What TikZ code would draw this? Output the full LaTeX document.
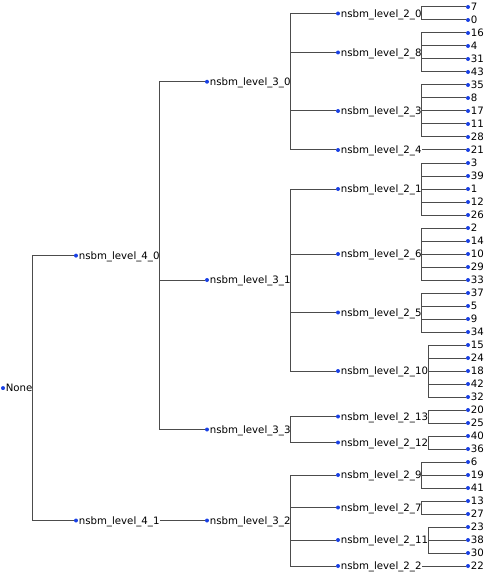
\documentclass[tikz,border=0pt]{standalone}
\usepackage{fontspec}
\setmainfont{DejaVu Sans}
\definecolor{dotc}{rgb}{0.1,0.25,0.9}
\definecolor{linec}{rgb}{0.3,0.3,0.3}
\tikzset{
  dot/.style={circle,fill=dotc,inner sep=0pt,minimum size=3pt},
  lbl/.style={anchor=west,inner sep=0pt,text height=5.5pt,text depth=0pt,font=\fontsize{7.65pt}{9pt}\selectfont},
  conn/.style={draw=linec,line width=0.75pt}
}
\newcommand\tnode[4]{\node[dot] (#1-d) at (#2,#3) {};\node[lbl] (#1) at ([xshift=0.2pt]#1-d.east) {#4};}
\begin{document}
\begin{tikzpicture}[x=0.75pt,y=-0.75pt]
\useasboundingbox (0,0) rectangle (491,574);
% root
\tnode{root}{3}{388.06}{None}
% level 4
\tnode{a40}{76}{255.625}{nsbm\_level\_4\_0}
\tnode{a41}{76}{520.5}{nsbm\_level\_4\_1}
% level 3
\tnode{b30}{207}{81.75}{nsbm\_level\_3\_0}
\tnode{b31}{207}{280}{nsbm\_level\_3\_1}
\tnode{b33}{207}{429.5}{nsbm\_level\_3\_3}
\tnode{b32}{207}{520.5}{nsbm\_level\_3\_2}
% level 2
\tnode{c20}{338}{13.5}{nsbm\_level\_2\_0}
\tnode{c28}{338}{52.5}{nsbm\_level\_2\_8}
\tnode{c23}{338}{111}{nsbm\_level\_2\_3}
\tnode{c24}{338}{150}{nsbm\_level\_2\_4}
\tnode{c21}{338}{189}{nsbm\_level\_2\_1}
\tnode{c26}{338}{254}{nsbm\_level\_2\_6}
\tnode{c25}{338}{312.5}{nsbm\_level\_2\_5}
\tnode{c210}{338}{371}{nsbm\_level\_2\_10}
\tnode{c213}{338}{416.5}{nsbm\_level\_2\_13}
\tnode{c212}{338}{442.5}{nsbm\_level\_2\_12}
\tnode{c29}{338}{475}{nsbm\_level\_2\_9}
\tnode{c27}{338}{507.5}{nsbm\_level\_2\_7}
\tnode{c211}{338}{540}{nsbm\_level\_2\_11}
\tnode{c22}{338}{566}{nsbm\_level\_2\_2}
% leaves
\tnode{k7}{468}{7}{7}
\tnode{k0}{468}{20}{0}
\tnode{k16}{468}{33}{16}
\tnode{k4}{468}{46}{4}
\tnode{k31}{468}{59}{31}
\tnode{k43}{468}{72}{43}
\tnode{k35}{468}{85}{35}
\tnode{k8}{468}{98}{8}
\tnode{k17}{468}{111}{17}
\tnode{k11}{468}{124}{11}
\tnode{k28}{468}{137}{28}
\tnode{k21}{468}{150}{21}
\tnode{k3}{468}{163}{3}
\tnode{k39}{468}{176}{39}
\tnode{k1}{468}{189}{1}
\tnode{k12}{468}{202}{12}
\tnode{k26}{468}{215}{26}
\tnode{k2}{468}{228}{2}
\tnode{k14}{468}{241}{14}
\tnode{k10}{468}{254}{10}
\tnode{k29}{468}{267}{29}
\tnode{k33}{468}{280}{33}
\tnode{k37}{468}{293}{37}
\tnode{k5}{468}{306}{5}
\tnode{k9}{468}{319}{9}
\tnode{k34}{468}{332}{34}
\tnode{k15}{468}{345}{15}
\tnode{k24}{468}{358}{24}
\tnode{k18}{468}{371}{18}
\tnode{k42}{468}{384}{42}
\tnode{k32}{468}{397}{32}
\tnode{k20}{468}{410}{20}
\tnode{k25}{468}{423}{25}
\tnode{k40}{468}{436}{40}
\tnode{k36}{468}{449}{36}
\tnode{k6}{468}{462}{6}
\tnode{k19}{468}{475}{19}
\tnode{k41}{468}{488}{41}
\tnode{k13}{468}{501}{13}
\tnode{k27}{468}{514}{27}
\tnode{k23}{468}{527}{23}
\tnode{k38}{468}{540}{38}
\tnode{k30}{468}{553}{30}
\tnode{k22}{468}{566}{22}
% connectors
\foreach \p/\c in {root/a40,root/a41,
  a40/b30,a40/b31,a40/b33,a41/b32,
  b30/c20,b30/c28,b30/c23,b30/c24,
  b31/c21,b31/c26,b31/c25,b31/c210,
  b33/c213,b33/c212,
  b32/c29,b32/c27,b32/c211,b32/c22,
  c20/k7,c20/k0,
  c28/k16,c28/k4,c28/k31,c28/k43,
  c23/k35,c23/k8,c23/k17,c23/k11,c23/k28,
  c24/k21,
  c21/k3,c21/k39,c21/k1,c21/k12,c21/k26,
  c26/k2,c26/k14,c26/k10,c26/k29,c26/k33,
  c25/k37,c25/k5,c25/k9,c25/k34,
  c210/k15,c210/k24,c210/k18,c210/k42,c210/k32,
  c213/k20,c213/k25,
  c212/k40,c212/k36,
  c29/k6,c29/k19,c29/k41,
  c27/k13,c27/k27,
  c211/k23,c211/k38,c211/k30,
  c22/k22}
  \draw[conn] (\p.east) |- (\c-d);
\end{tikzpicture}
\end{document}
